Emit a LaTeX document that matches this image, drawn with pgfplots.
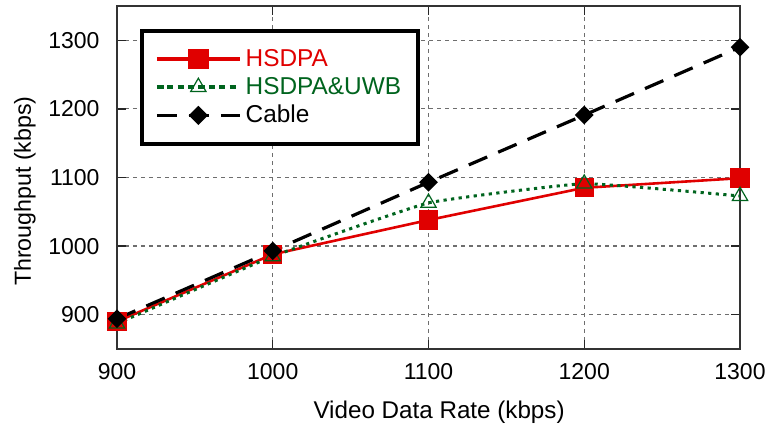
\documentclass[border=0pt]{standalone}
\usepackage{pgfplots}
\pgfplotsset{compat=1.18}
\usepackage{fontspec}
\setmainfont{Liberation Sans}

\definecolor{hsred}{RGB}{224,0,0}
\definecolor{uwbgreen}{RGB}{0,100,30}
\definecolor{gridgray}{RGB}{110,110,110}

\begin{document}
\begin{tikzpicture}
\begin{axis}[
 width=311.5pt,height=171.5pt,scale only axis,
 xmin=900,xmax=1300,ymin=850,ymax=1350,
 xtick={900,1000,1100,1200,1300},ytick={900,1000,1100,1200,1300},
 grid=major,grid style={gridgray,dash pattern=on 2pt off 2pt,line width=0.6pt},
 axis line style={black!80,line width=0.7pt},
 tick style={black!85,line width=0.7pt},major tick length=4.5pt,tick align=inside,
 /pgf/number format/assume math mode=true,
 /pgf/number format/1000 sep={},
 tick label style={font=\fontsize{11.5}{13}\selectfont},
 xticklabel style={yshift=-3.7pt},
 yticklabel style={xshift=-5.2pt},
 xlabel={Video Data Rate (kbps)},ylabel={Throughput (kbps)},
 xlabel style={at={(axis description cs:0.517,0)},yshift=-31.5pt,anchor=center,font=\fontsize{12.1}{14}\selectfont},
 ylabel style={at={(axis description cs:0,0.46)},yshift=46pt,anchor=center,font=\fontsize{11.6}{14}\selectfont},
 legend style={at={(0.037,0.933)},anchor=north west,draw=black,line width=2pt,
   font=\fontsize{12.2}{14}\selectfont,inner xsep=6.5pt,inner ysep=7pt,row sep=0pt},
 legend cell align=left,
]
\addplot[hsred,line width=1.3pt,mark=square*,mark size=4.2pt,mark options={solid,fill=hsred},
 legend image code/.code={\draw[line width=1.8pt,mark repeat=2,mark phase=2] plot coordinates {(0pt,0pt)(20.75pt,0pt)(41.5pt,0pt)};}]
 coordinates {(900,890) (1000,988) (1100,1038) (1200,1085) (1300,1099)};
\addlegendentry{\textcolor{hsred}{HSDPA}}
\addplot[uwbgreen,line width=1.5pt,dash pattern=on 1.6pt off 2.2pt,smooth,tension=0.2,mark=triangle,mark size=4.4pt,mark options={solid,line width=0.6pt,fill=white},
 legend image code/.code={\draw[line width=1.8pt,dash pattern=on 3pt off 2.2pt,mark repeat=2,mark phase=2] plot coordinates {(0pt,0pt)(20.75pt,0pt)(41.5pt,0pt)};}]
 coordinates {(900,887) (1000,985) (1100,1063) (1200,1091) (1300,1073)};
\addlegendentry{\textcolor{uwbgreen}{HSDPA\&UWB}}
\addplot[black,line width=1.6pt,dash pattern=on 10pt off 6pt,mark=square*,mark size=2.5pt,mark options={solid,rotate=45,fill=black},
 legend image code/.code={\draw[line width=1.8pt,mark repeat=2,mark phase=2] plot coordinates {(0pt,0pt)(20.75pt,0pt)(41.5pt,0pt)};}]
 coordinates {(900,894) (1000,993) (1100,1093) (1200,1191) (1300,1290)};
\addlegendentry{Cable}
\coordinate (o) at (rel axis cs:0,0);
\end{axis}
\pgfresetboundingbox
\path ([shift={(-58.5pt,-41pt)}]o) rectangle ++(382.5pt,215.5pt);
\end{tikzpicture}
\end{document}
